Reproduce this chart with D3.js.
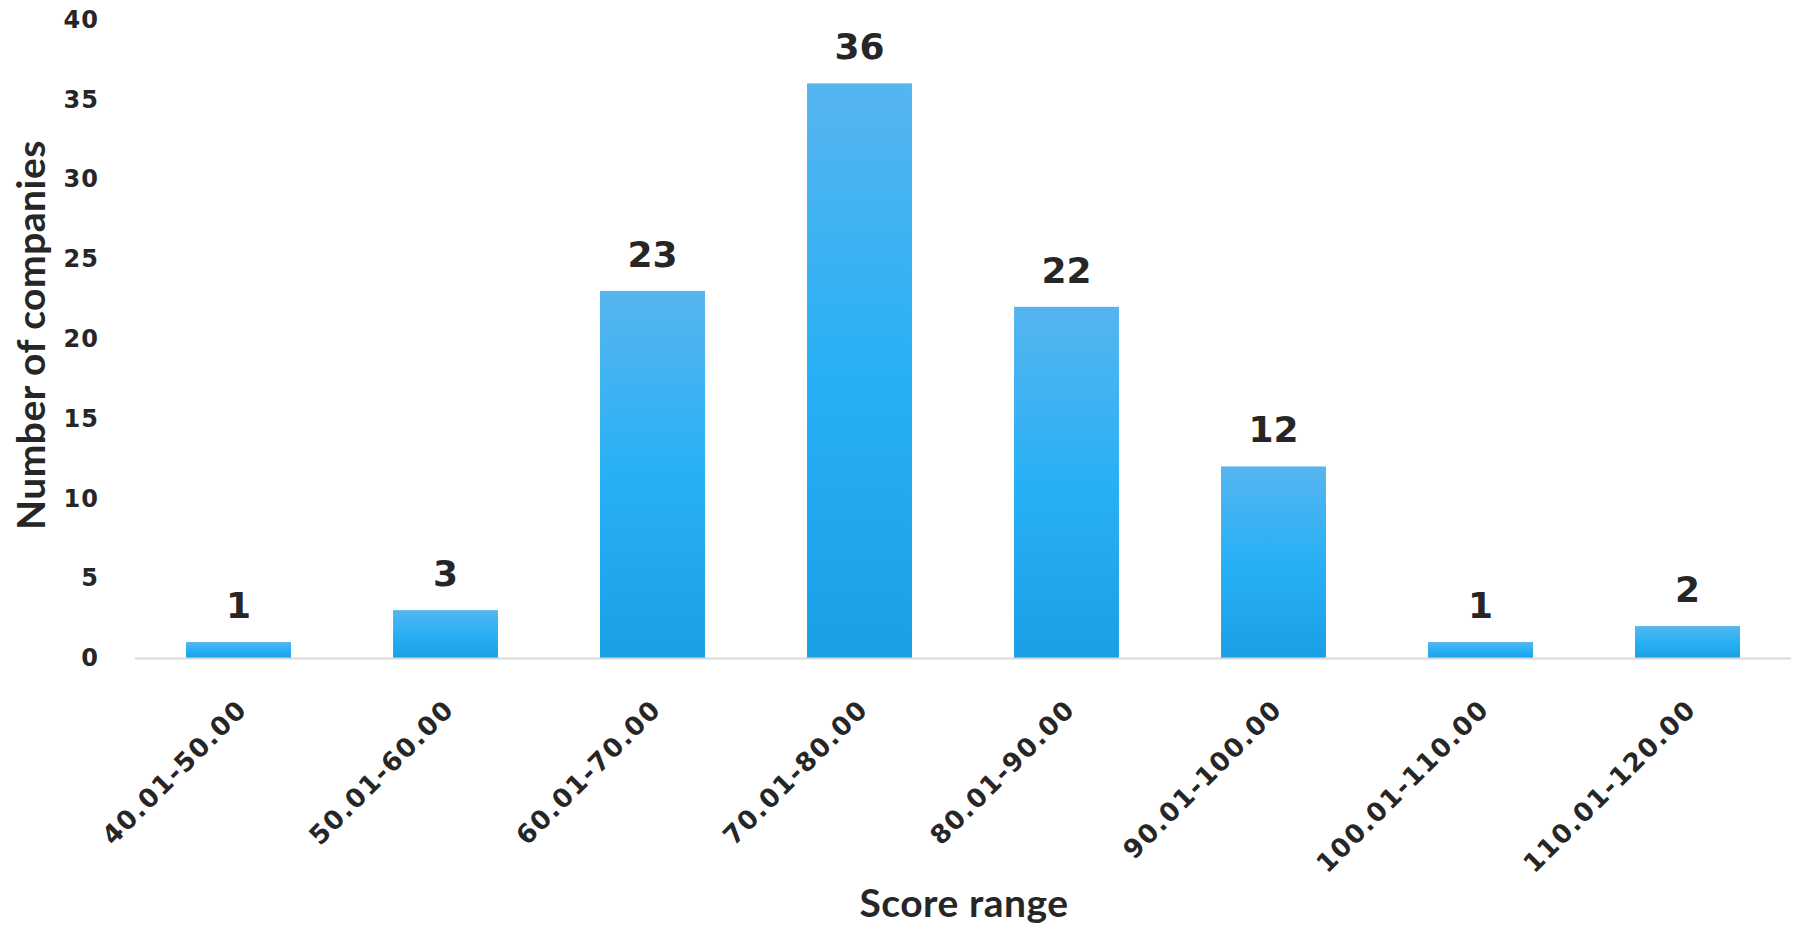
<!DOCTYPE html>
<html>
<head>
<meta charset="utf-8">
<script src="https://cdn.jsdelivr.net/npm/d3@7"></script>
<style>
body { margin: 0; background: #fff; }
text { fill: #262626; }
</style>
</head>
<body>
<div id="bar-chart"></div>
<script>
var ranges = ["40.01-50.00", "50.01-60.00", "60.01-70.00", "70.01-80.00",
	"80.01-90.00", "90.01-100.00", "100.01-110.00", "110.01-120.00"];
var counts = [1, 3, 23, 36, 22, 12, 1, 2];
var yTicks = [0, 5, 10, 15, 20, 25, 30, 35, 40];

var width = 1794, height = 930;
var plotLeft = 135, plotRight = 1791, plotTop = 19.5, plotBottom = 658;
var numFont = "'DejaVu Sans', Verdana, sans-serif";
var titleFont = "Lato, 'Open Sans', sans-serif";

var svg = d3.select("#bar-chart")
	.append("svg")
	.attr("width", width)
	.attr("height", height);

var defs = svg.append("defs");
var grad = defs.append("linearGradient")
	.attr("id", "barGrad")
	.attr("x1", 0).attr("y1", 0).attr("x2", 0).attr("y2", 1);
grad.append("stop").attr("offset", "0%").attr("stop-color", "#56b5ef");
grad.append("stop").attr("offset", "50%").attr("stop-color", "#28b0f6");
grad.append("stop").attr("offset", "100%").attr("stop-color", "#1a9fe5");

var x = d3.scaleBand()
	.domain(ranges)
	.range([plotLeft, plotRight])
	.paddingInner(0.493)
	.paddingOuter(0.2465);

var y = d3.scaleLinear()
	.domain([0, 40])
	.range([plotBottom, plotTop]);

// y axis labels only
var yAxis = svg.append("g")
	.attr("transform", "translate(" + plotLeft + ",0)")
	.call(d3.axisLeft(y).tickValues(yTicks).tickSize(0).tickPadding(36));
yAxis.select(".domain").remove();
yAxis.selectAll("text")
	.style("font-size", "24px")
	.style("font-weight", "bold")
	.style("font-family", numFont)
	.style("letter-spacing", "1px")
	.attr("fill", "#262626");

// bars
svg.selectAll("rect.bar")
	.data(counts)
	.enter()
	.append("rect")
	.attr("class", "bar")
	.attr("x", function(d, i) { return x(ranges[i]); })
	.attr("y", function(d) { return y(d); })
	.attr("width", x.bandwidth())
	.attr("height", function(d) { return y(0) - y(d); })
	.attr("fill", "url(#barGrad)");

// x axis line
svg.append("line")
	.attr("x1", plotLeft).attr("x2", plotRight)
	.attr("y1", y(0) + 0.5).attr("y2", y(0) + 0.5)
	.attr("stroke", "#d9d9d9")
	.attr("stroke-width", 2);

// value labels
svg.selectAll("text.val")
	.data(counts)
	.enter()
	.append("text")
	.attr("class", "val")
	.attr("x", function(d, i) { return x(ranges[i]) + x.bandwidth() / 2; })
	.attr("y", function(d) { return y(d) - 24; })
	.attr("text-anchor", "middle")
	.style("font-family", numFont)
	.style("font-size", "36px")
	.style("font-weight", "bold")
	.text(function(d) { return d; });

// x category labels
svg.selectAll("text.cat")
	.data(ranges)
	.enter()
	.append("text")
	.attr("class", "cat")
	.attr("transform", function(d) {
		return "translate(" + (x(d) + x.bandwidth() / 2 + 10) + "," + (y(0) + 53) + ") rotate(-45)";
	})
	.attr("text-anchor", "end")
	.style("font-family", numFont)
	.style("font-size", "26px")
	.style("font-weight", "bold")
	.style("letter-spacing", "1.5px")
	.text(function(d) { return d; });

// axis titles
svg.append("text")
	.attr("transform", "translate(45,335) rotate(-90)")
	.attr("text-anchor", "middle")
	.style("font-family", titleFont)
	.style("font-size", "39px")
	.style("font-weight", "bold")
	.style("letter-spacing", "0.5px")
	.text("Number of companies");

svg.append("text")
	.attr("x", 964)
	.attr("y", 917)
	.attr("text-anchor", "middle")
	.style("font-family", titleFont)
	.style("font-size", "39px")
	.style("font-weight", "bold")
	.style("letter-spacing", "0.5px")
	.text("Score range");
</script>
</body>
</html>
